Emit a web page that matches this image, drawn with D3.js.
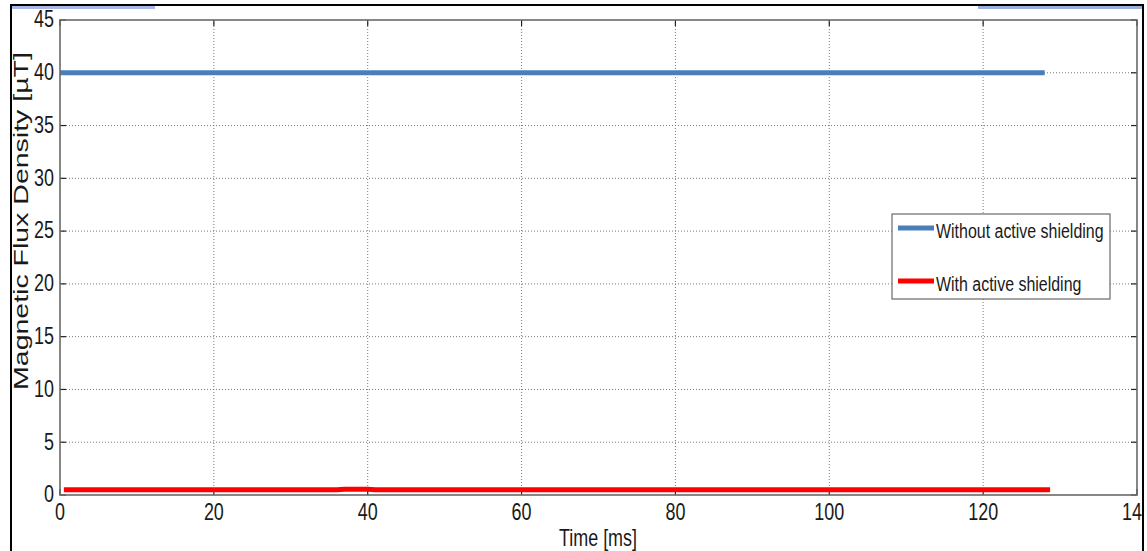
<!DOCTYPE html>
<html><head><meta charset="utf-8">
<script src="https://cdn.jsdelivr.net/npm/d3@7"></script>
<style>html,body{margin:0;padding:0;background:#fff;}svg{display:block;}</style>
</head><body>
<svg id="c" width="1147" height="551"></svg>
<script>
// ---- data ----
const blueTime = [0, 128];
const blueValue = [40, 40];
const redTime = [0.5, 36, 37, 40, 41, 128.7];
const redValue = [0.5, 0.5, 0.55, 0.55, 0.5, 0.5];
const xTicks = [0, 20, 40, 60, 80, 100, 120, 140];
const yTicks = [0, 5, 10, 15, 20, 25, 30, 35, 40, 45];
const seriesNames = ["Without active shielding", "With active shielding"];
const seriesColors = ["#4a7ebb", "#ff0000"];
const xTitle = "Time [ms]";
const yTitle = "Magnetic Flux Density [\u00b5T]";

const svg = d3.select("#c");
const font = "'Liberation Sans', Arial, sans-serif";
const L = 60, R = 1137, T = 20, B = 495;
const x = d3.scaleLinear().domain([0, 140]).range([L, R]);
const y = d3.scaleLinear().domain([0, 45]).range([B, T]);

svg.append("rect").attr("width", 1147).attr("height", 551).attr("fill", "#fff");

// clip for whole frame
svg.append("clipPath").attr("id", "frame").append("rect")
  .attr("x", 12).attr("y", 0).attr("width", 1130).attr("height", 551);
const g = svg.append("g").attr("clip-path", "url(#frame)");

// grid
g.append("g").selectAll("line").data(xTicks.slice(1, -1)).join("line")
  .attr("x1", d => x(d)).attr("x2", d => x(d)).attr("y1", T).attr("y2", B)
  .attr("stroke", "#7a7a7a").attr("stroke-width", 1).attr("stroke-dasharray", "1,2");
g.append("g").selectAll("line").data(yTicks.slice(1, -1)).join("line")
  .attr("y1", d => y(d)).attr("y2", d => y(d)).attr("x1", L).attr("x2", R)
  .attr("stroke", "#7a7a7a").attr("stroke-width", 1).attr("stroke-dasharray", "1,2");

// ticks (inward, all four sides)
const tl = 6;
g.append("g").selectAll("line").data(xTicks).join("line")
  .attr("x1", d => x(d)).attr("x2", d => x(d)).attr("y1", B).attr("y2", B - tl)
  .attr("stroke", "#222").attr("stroke-width", 1.2);
g.append("g").selectAll("line").data(xTicks).join("line")
  .attr("x1", d => x(d)).attr("x2", d => x(d)).attr("y1", T).attr("y2", T + tl)
  .attr("stroke", "#222").attr("stroke-width", 1.2);
g.append("g").selectAll("line").data(yTicks).join("line")
  .attr("y1", d => y(d)).attr("y2", d => y(d)).attr("x1", L).attr("x2", L + tl)
  .attr("stroke", "#222").attr("stroke-width", 1.2);
g.append("g").selectAll("line").data(yTicks).join("line")
  .attr("y1", d => y(d)).attr("y2", d => y(d)).attr("x1", R).attr("x2", R - tl)
  .attr("stroke", "#222").attr("stroke-width", 1.2);

// series lines
const line = d3.line().x(d => x(d[0])).y(d => y(d[1]));
g.append("path").datum(blueTime.map((t, i) => [t, blueValue[i]]))
  .attr("d", line).attr("fill", "none").attr("stroke", seriesColors[0]).attr("stroke-width", 5);
g.append("path").datum(redTime.map((t, i) => [t, redValue[i]]))
  .attr("d", line).attr("fill", "none").attr("stroke", seriesColors[1]).attr("stroke-width", 5);

// box
g.append("rect").attr("x", L).attr("y", T).attr("width", R - L).attr("height", B - T)
  .attr("fill", "none").attr("stroke", "#6a6a6a").attr("stroke-width", 1.6);

// compressed text helper
function txt(parent, str, px, py, size, anchor, sx, rot) {
  const gg = parent.append("g").attr("transform",
    `translate(${px},${py}) scale(${sx},1)` + (rot ? ` rotate(${rot})` : ""));
  return gg.append("text").text(str).attr("font-family", font).attr("font-size", size)
    .attr("text-anchor", anchor).attr("dominant-baseline", "central").attr("fill", "#1a1a1a");
}

// tick labels
yTicks.forEach(d => txt(g, d, L - 6, y(d) - 1, 23, "end", 0.78));
xTicks.forEach(d => txt(g, d, x(d), 512, 23, "middle", 0.78));

// axis titles
txt(g, xTitle, 598, 538, 23, "middle", 0.78);
txt(g, yTitle, 21.5, 221, 28.5, "middle", 0.68, -90);

// legend
const lg = g.append("g");
lg.append("rect").attr("x", 892).attr("y", 214).attr("width", 218).attr("height", 85)
  .attr("fill", "#fff").attr("stroke", "#6a6a6a").attr("stroke-width", 1.2);
const legY = [228, 281];
seriesNames.forEach((n, i) => {
  lg.append("line").attr("x1", 898).attr("x2", 934).attr("y1", legY[i]).attr("y2", legY[i])
    .attr("stroke", seriesColors[i]).attr("stroke-width", 5);
  txt(lg, n, 936, legY[i] + 3, 21, "start", 0.76);
});

// outer screenshot frame
svg.append("rect").attr("x", 12).attr("y", 6).attr("width", 143).attr("height", 3).attr("fill", "#a9b7e6");
svg.append("rect").attr("x", 978).attr("y", 6).attr("width", 164).attr("height", 3).attr("fill", "#9cb0e0");
svg.append("line").attr("x1", 10).attr("x2", 1144).attr("y1", 5).attr("y2", 5).attr("stroke", "#000").attr("stroke-width", 2);
svg.append("line").attr("x1", 11).attr("x2", 11).attr("y1", 4).attr("y2", 551).attr("stroke", "#000").attr("stroke-width", 2);
svg.append("line").attr("x1", 1143).attr("x2", 1143).attr("y1", 4).attr("y2", 551).attr("stroke", "#000").attr("stroke-width", 2);
</script>
</body></html>
